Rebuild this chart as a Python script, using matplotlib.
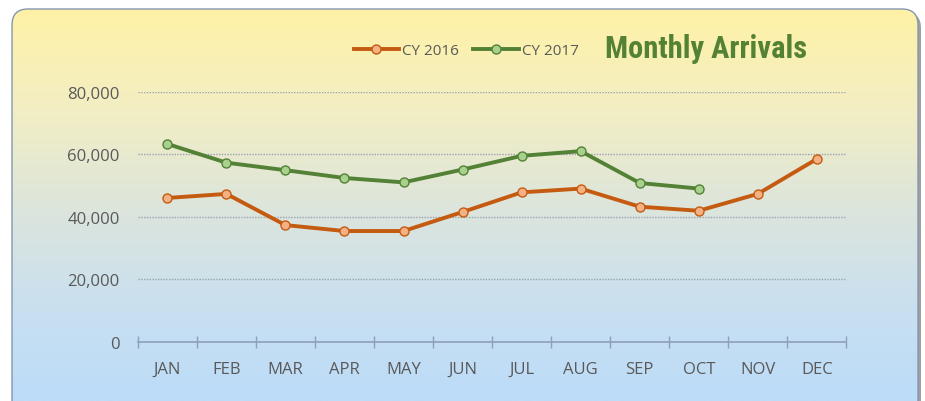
import numpy as np
import matplotlib.pyplot as plt
from matplotlib.patches import FancyBboxPatch
from matplotlib.colors import LinearSegmentedColormap
from matplotlib.lines import Line2D
from matplotlib.ticker import FuncFormatter

months = ["JAN", "FEB", "MAR", "APR", "MAY", "JUN",
          "JUL", "AUG", "SEP", "OCT", "NOV", "DEC"]
cy2016 = [46000, 47300, 37300, 35400, 35400, 41500,
          47800, 49000, 43200, 41900, 47300, 58500]
cy2017 = [63300, 57300, 54900, 52400, 51000, 55100,
          59500, 61000, 50800, 49000]
y_ticks = [0, 20000, 40000, 60000, 80000]

ORANGE = "#C55A11"
ORANGE_FILL = "#F4B183"
GREEN = "#538135"
GREEN_FILL = "#A9D18E"
TEXT = "#595959"
FONT = ["Open Sans", "DejaVu Sans"]

fig = plt.figure(figsize=(9.25, 4.02), dpi=100)

# background panel: rounded box with a yellow -> blue gradient
bg = fig.add_axes([0, 0, 1, 1])
shadow = FancyBboxPatch((15, 13), 906, 420, boxstyle="round,pad=0,rounding_size=16",
                        facecolor="#a0a0a0", edgecolor="none", zorder=0)
bg.add_patch(shadow)
box = FancyBboxPatch((12, 10), 906, 420, boxstyle="round,pad=0,rounding_size=16",
                     facecolor="none", edgecolor="#8497B0", linewidth=1.0, zorder=2)
grad_cmap = LinearSegmentedColormap.from_list(
    "bg", [(0.0, "#FFF2A6"), (0.25, "#F3EEC3"), (0.55, "#D9E4E0"),
           (0.8, "#C6DFF2"), (1.0, "#BCDCF8")])
grad = np.linspace(0, 1, 256).reshape(-1, 1)
im = bg.imshow(grad, cmap=grad_cmap, aspect="auto", extent=(12, 918, 402, 10), zorder=1)
bg.add_patch(box)
im.set_clip_path(box)
bg.set_xlim(0, 925)
bg.set_ylim(402, 0)
bg.axis("off")

# main chart
ax = fig.add_axes([0.149, 0.148, 0.766, 0.621])
ax.set_facecolor("none")
x = np.arange(len(months))
ax.plot(x, cy2016, color=ORANGE, lw=2.8, marker="o", ms=6.5,
        mfc=ORANGE_FILL, mec=ORANGE, mew=1.0, zorder=3)
ax.plot(x[:len(cy2017)], cy2017, color=GREEN, lw=2.8, marker="o", ms=6.5,
        mfc=GREEN_FILL, mec=GREEN, mew=1.0, zorder=3)

ax.set_xlim(-0.5, 11.5)
ax.set_ylim(0, 80000)
ax.set_yticks(y_ticks)
ax.yaxis.set_major_formatter(FuncFormatter(lambda v, p: f"{int(v):,}"))
ax.set_xticks(x)
ax.set_xticklabels(months)
ax.set_xticks(np.arange(-0.5, 12, 1), minor=True)
ax.tick_params(axis="x", which="major", length=0, pad=14, labelsize=12, labelcolor=TEXT)
ax.tick_params(axis="x", which="minor", direction="inout", length=9, width=1, color="#8EA0BC")
ax.tick_params(axis="y", length=0, pad=13, labelsize=12, labelcolor=TEXT)
for lab in ax.get_xticklabels() + ax.get_yticklabels():
    lab.set_family(FONT)

for g in y_ticks[1:]:
    ax.axhline(g, color="#9aa3ad", lw=1, ls=(0, (1, 1)), zorder=1)
for s in ["top", "right", "left"]:
    ax.spines[s].set_visible(False)
ax.spines["bottom"].set_color("#8EA0BC")
ax.spines["bottom"].set_linewidth(1.2)

handles = [Line2D([], [], color=ORANGE, lw=2.8, marker="o", ms=6.5, mfc=ORANGE_FILL, mec=ORANGE),
           Line2D([], [], color=GREEN, lw=2.8, marker="o", ms=6.5, mfc=GREEN_FILL, mec=GREEN)]
leg = fig.legend(handles, ["CY 2016", "CY 2017"], loc="center", bbox_to_anchor=(0.504, 0.872),
                 ncol=2, frameon=False, handlelength=3.0, handletextpad=0.2, columnspacing=0.9,
                 prop={"family": FONT, "size": 11})
for t in leg.get_texts():
    t.set_color(TEXT)

fig.text(0.654, 0.878, "Monthly Arrivals", color="#548235", fontsize=22, fontweight="bold",
         family=["Liberation Sans Narrow", "DejaVu Sans Condensed", "Roboto Condensed", "Roboto"],
         va="center", ha="left")

fig.savefig("out.png", dpi=100)
